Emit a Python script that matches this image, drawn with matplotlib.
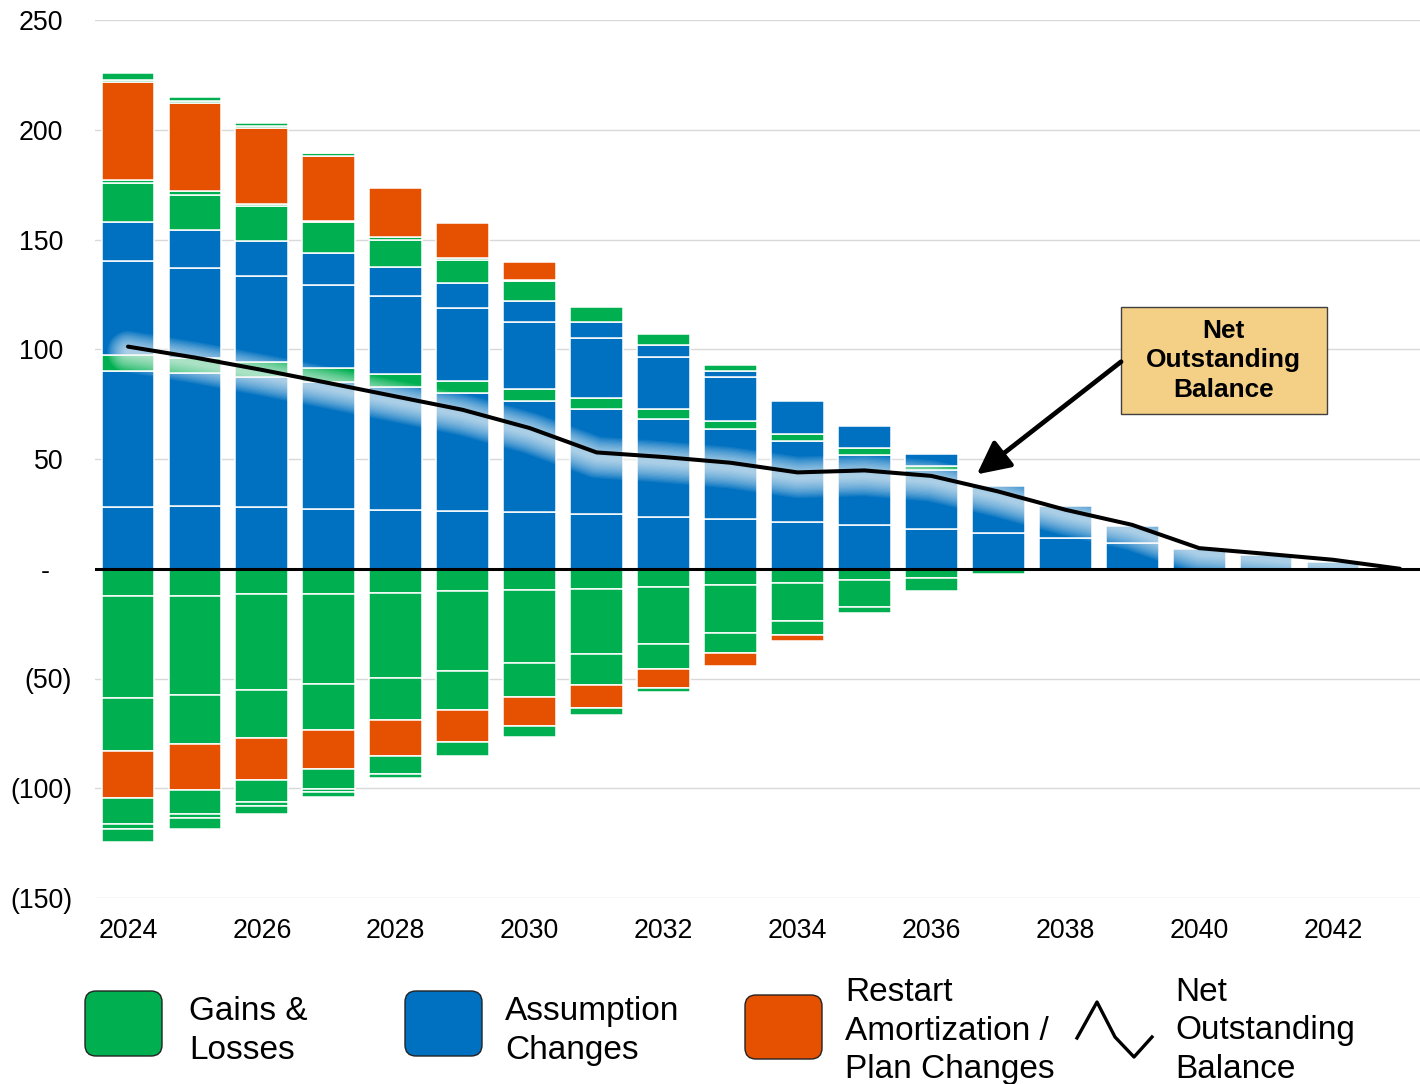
import numpy as np
import matplotlib
matplotlib.use("Agg")
import matplotlib.pyplot as plt
from matplotlib import transforms
from matplotlib.patches import FancyBboxPatch, Rectangle
from matplotlib.lines import Line2D

plt.rcParams['font.family'] = ['Liberation Sans', 'DejaVu Sans']

GREEN = "#00B050"
BLUE = "#0070C0"
ORANGE = "#E55100"

years = np.arange(2024, 2044)

# amortization bases above zero, stacked bottom to top
p1_blue = [28.3, 28.4, 28.0, 27.3, 26.9, 26.4, 25.7, 24.8, 23.6, 22.6, 21.3, 19.8, 18.3, 16.2, 13.8, 11.8, 9.1, 6.4, 3.2, 0]
p2_blue = [61.9, 60.6, 59.2, 57.9, 55.7, 53.5, 50.8, 48.0, 44.8, 41.1, 36.9, 32.1, 26.8, 21.3, 15.0, 7.5, 0, 0, 0, 0]
p3_green = [7.3, 6.9, 6.9, 6.4, 6.2, 5.7, 5.4, 5.0, 4.5, 3.8, 3.3, 2.9, 1.9, 0, 0, 0, 0, 0, 0, 0]
p4_blue = [42.7, 41.3, 39.4, 37.7, 35.6, 33.3, 30.4, 27.2, 23.7, 19.8, 15.1, 10.3, 5.4, 0, 0, 0, 0, 0, 0, 0]
p5_blue = [18.0, 17.0, 15.8, 14.6, 13.0, 11.3, 9.6, 7.5, 5.3, 2.9, 0, 0, 0, 0, 0, 0, 0, 0, 0, 0]
p6_green = [17.4, 16.3, 15.9, 14.1, 12.4, 10.5, 9.3, 6.8, 5.0, 2.6, 0, 0, 0, 0, 0, 0, 0, 0, 0, 0]
p7_green = [1.6, 1.5, 0.8, 0.6, 1.2, 0.9, 0.5, 0, 0, 0, 0, 0, 0, 0, 0, 0, 0, 0, 0, 0]
p8_orange = [44.5, 40.0, 35.0, 29.4, 22.6, 16.1, 8.1, 0, 0, 0, 0, 0, 0, 0, 0, 0, 0, 0, 0, 0]
p9_green = [1.1, 1.3, 0.8, 1.3, 0, 0, 0, 0, 0, 0, 0, 0, 0, 0, 0, 0, 0, 0, 0, 0]
p10_green = [2.9, 1.8, 1.4, 0.7, 0, 0, 0, 0, 0, 0, 0, 0, 0, 0, 0, 0, 0, 0, 0, 0]

# bases below zero, stacked from zero downward
n1_green = [12.3, 12.2, 11.7, 11.4, 10.9, 10.3, 9.9, 9.1, 8.2, 7.6, 6.5, 5.3, 4.3, 2.6, 1.2, 0, 0, 0, 0, 0]
n2_green = [46.7, 45.2, 43.4, 41.3, 39.0, 36.5, 33.1, 29.9, 26.3, 21.7, 17.3, 12.2, 6.0, 0, 0, 0, 0, 0, 0, 0]
n3_green = [23.9, 22.6, 21.9, 20.6, 19.0, 17.4, 15.6, 13.8, 11.3, 9.3, 6.3, 2.8, 0, 0, 0, 0, 0, 0, 0, 0]
n4_orange = [21.5, 20.6, 19.1, 17.9, 16.6, 14.6, 13.2, 10.6, 8.7, 5.6, 2.7, 0, 0, 0, 0, 0, 0, 0, 0, 0]
n5_green = [11.8, 11.0, 10.3, 9.1, 7.9, 6.4, 4.7, 3.4, 1.5, 0, 0, 0, 0, 0, 0, 0, 0, 0, 0, 0]
n6_green = [2.3, 2.0, 1.6, 1.4, 2.1, 0, 0, 0, 0, 0, 0, 0, 0, 0, 0, 0, 0, 0, 0, 0]
n7_green = [6.1, 4.9, 3.9, 2.4, 0, 0, 0, 0, 0, 0, 0, 0, 0, 0, 0, 0, 0, 0, 0, 0]

net_balance = [101.2, 96.2, 90.6, 84.6, 78.5, 72.4, 64.1, 53.0, 50.9, 48.3,
               43.9, 44.8, 42.3, 35.2, 26.9, 20.0, 9.4, 6.8, 4.1, 0.0]

y_ticks = [-150, -100, -50, 0, 50, 100, 150, 200, 250]
y_labels = ["(150)", "(100)", "(50)", "-", "50", "100", "150", "200", "250"]
x_ticks = list(range(2024, 2043, 2))

pos_layers = [(p1_blue, BLUE), (p2_blue, BLUE), (p3_green, GREEN), (p4_blue, BLUE),
              (p5_blue, BLUE), (p6_green, GREEN), (p7_green, GREEN), (p8_orange, ORANGE),
              (p9_green, GREEN), (p10_green, GREEN)]
neg_layers = [(n1_green, GREEN), (n2_green, GREEN), (n3_green, GREEN), (n4_orange, ORANGE),
              (n5_green, GREEN), (n6_green, GREEN), (n7_green, GREEN)]

W, H = 1420, 1084
fig = plt.figure(figsize=(W / 100, H / 100), dpi=100)
ax = fig.add_axes([95 / W, 186 / H, 1325 / W, 878 / H])

bw = 0.79
bottom = np.zeros(len(years))
for vals, col in pos_layers:
    v = np.array(vals, dtype=float)
    m = v > 0
    ax.bar(years[m], v[m], bottom=bottom[m], width=bw, color=col,
           edgecolor="white", linewidth=1.1, zorder=2)
    bottom += v

bottom = np.zeros(len(years))
for vals, col in neg_layers:
    v = -np.array(vals, dtype=float)
    m = v < 0
    ax.bar(years[m], v[m], bottom=bottom[m], width=bw, color=col,
           edgecolor="white", linewidth=1.1, zorder=2)
    bottom += v

# soft white glow under the balance line, many faint strokes so it fades smoothly
glow = transforms.offset_copy(ax.transData, fig=fig, x=0, y=-5, units="dots")
for lw in np.linspace(30, 3, 16):
    ax.plot(years, net_balance, color="white", lw=lw, alpha=0.07, transform=glow,
            solid_capstyle="round", solid_joinstyle="round", zorder=3)
ax.plot(years, net_balance, color="black", lw=2.9, solid_capstyle="round", zorder=5)
ax.axhline(0, color="black", lw=2.2, zorder=4)

ax.set_xlim(2023.507, 2043.30)
ax.set_ylim(-150, 250)
ax.set_yticks(y_ticks)
ax.set_yticklabels(y_labels, fontsize=19.3)
ax.set_xticks(x_ticks)
ax.set_xticklabels([str(x) for x in x_ticks], fontsize=19.3)
ax.tick_params(axis="both", length=0)
ax.tick_params(axis="y", pad=16.5)
ax.tick_params(axis="x", pad=14.5)
for s in ax.spines.values():
    s.set_visible(False)
ax.yaxis.grid(True, color="#d9d9d9", lw=1.0)
ax.set_axisbelow(True)

# accounting-style alignment of y labels
for lab, val in zip(ax.get_yticklabels(), y_ticks):
    dx = 0
    if val > 0:
        dx = -9
    elif val == 0:
        dx = -22
    lab.set_transform(lab.get_transform() + transforms.ScaledTranslation(dx / 100, 0, fig.dpi_scale_trans))

# callout box with arrow
ax.add_patch(Rectangle((2038.834, 70.6), 3.077, 48.7, facecolor="#F4CF86",
                       edgecolor="#404040", lw=1.0, zorder=6))
ax.text(2040.37, 95.0, "Net\nOutstanding\nBalance", ha="center", va="center",
        fontsize=18.9, fontweight="bold", linespacing=1.3, zorder=7)
ax.annotate("", xy=(2036.68, 43.0), xytext=(2038.834, 94.3),
            arrowprops=dict(arrowstyle="-|>,head_length=1.0,head_width=0.5",
                            lw=3.4, color="black", shrinkA=0, shrinkB=0,
                            mutation_scale=20), zorder=7)

# legend drawn in pixel coordinates along the bottom
px = transforms.IdentityTransform()


def swatch(x0, y0, x1, y1, col):
    fig.add_artist(FancyBboxPatch((x0, H - y1), x1 - x0, y1 - y0,
                                  boxstyle="round,pad=0,rounding_size=11",
                                  facecolor=col, edgecolor="#222222", lw=1.0,
                                  transform=px))


def legend_text(x, y, s):
    fig.text(x / W, 1 - y / H, s, ha="left", va="center", fontsize=24,
             linespacing=1.33)


swatch(85, 991, 162, 1056, GREEN)
legend_text(189, 1031, "Gains &\nLosses")
swatch(405, 991, 482, 1056, BLUE)
legend_text(505, 1031, "Assumption\nChanges")
swatch(745, 995, 822, 1059, ORANGE)
legend_text(845, 1031, "Restart\nAmortization /\nPlan Changes")
zx = [1077, 1097, 1115, 1134, 1152]
zy = [1038, 1002, 1037, 1057, 1037]
fig.add_artist(Line2D(zx, [H - v for v in zy], color="black", lw=2.4, transform=px))
legend_text(1175, 1031, "Net\nOutstanding\nBalance")

fig.savefig("out.png", dpi=100)
